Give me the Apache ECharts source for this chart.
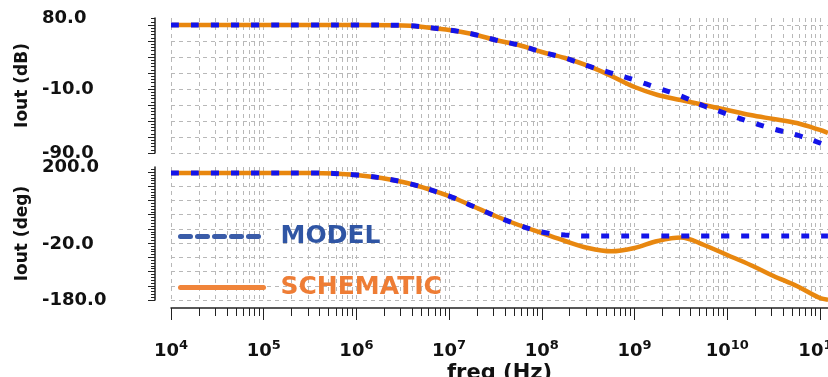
<!DOCTYPE html>
<html>
<head>
<meta charset="utf-8">
<script src="https://cdn.jsdelivr.net/npm/echarts@6/dist/echarts.min.js"></script>
<style>
html, body { margin: 0; padding: 0; background: #fff; }
#main { width: 828px; height: 377px; }
</style>
</head>
<body>
<div id="main"></div>
<script>
// read-off points (Hz)
var freqs = [1e4, 1e5, 3.16e5, 1e6, 3.16e6, 1e7, 1.78e7, 3.16e7, 5.62e7, 1e8, 1.78e8, 3.16e8, 5.62e8,
    1e9, 1.78e9, 3.16e9, 5.62e9, 1e10, 1.78e10, 3.16e10, 5.62e10, 1e11, 1.22e11];
// Iout magnitude (dB)
var magSchematic = [71.2, 71.2, 71.2, 71.2, 70.6, 64.9, 59.9, 52.3, 46.0, 37.2, 29.6, 19.6, 7.0,
    -6.9, -17.0, -23.3, -29.6, -35.9, -42.2, -47.2, -52.3, -61.0, -64.8];
var magModel = [71.2, 71.2, 71.2, 71.2, 70.6, 64.9, 59.9, 52.3, 46.0, 37.2, 29.6, 19.6, 10.7,
    1.9, -8.2, -18.2, -30.8, -40.9, -51.0, -59.8, -67.3, -77.4, -81.2];
// Iout phase (deg)
var phaseSchematic = [182.9, 182.9, 182.9, 177.1, 157.1, 117.1, 88.6, 60.0, 34.3, 11.4, -11.4, -31.4, -41.0,
    -31.4, -11.4, -1.5, -22.9, -51.4, -80.0, -111.4, -140.0, -174.3, -179];
var phaseModel = [182.9, 182.9, 182.9, 177.1, 157.1, 117.1, 88.6, 60.0, 34.3, 14.3, 5.7, 2.9, 2.9,
    2.9, 2.9, 2.9, 2.9, 2.9, 2.9, 2.9, 2.9, 2.9, 2.9];

var magLabels = [80, -10, -90];
var phaseLabels = [200, -20, -180];
var decades = [4, 5, 6, 7, 8, 9, 10, 11];

var FONT = 'DejaVu Sans';
var xMin = 4, xMax = 11.087;
var magMin = -90, magMax = 80, phMin = -180, phMax = 200;

// log grid positions 1..9 x 10^n
var logGrid = [];
decades.forEach(function (d) {
    for (var k = 1; k <= 9; k++) {
        var v = d + Math.log10(k);
        if (v <= xMax) logGrid.push(v);
    }
});

// ruler ticks on the y axes, 5 per grid step
function steps(min, max, step) {
    var out = [];
    for (var i = 0; min + i * step <= max + 1e-6; i++) out.push(+(min + i * step).toFixed(3));
    return out;
}
var magGrid = steps(magMin, magMax, 20.15);
var magRuler = steps(magMin, magMax, 4.03);
var phGrid = steps(phMin, phMax, 40.6);
var phRuler = steps(phMin, phMax, 8.12);

function pts(ys) {
    return freqs.map(function (f, i) { return [Math.log10(f), ys[i]]; });
}

var dashed = { show: true, lineStyle: { color: '#b8b8b8', width: 1, type: [4, 4] } };
var labelStyle = { fontFamily: FONT, fontWeight: 'bold', fontSize: 18, color: '#111' };
var nameStyle = { fontFamily: FONT, fontWeight: 'bold', fontSize: 17, color: '#111' };

function yAxes(grid, min, max, labels, grids, ruler, name) {
    return [{
        gridIndex: grid, type: 'value', position: 'left', min: min, max: max, offset: 16,
        name: name, nameLocation: 'middle', nameRotate: 90, nameGap: 114, nameTextStyle: nameStyle,
        axisLine: { show: true, onZero: false, lineStyle: { color: '#222', width: 1.5 } },
        axisTick: { show: true, length: 7, customValues: grids, lineStyle: { color: '#222' } },
        axisLabel: { show: true, customValues: labels, align: 'left', margin: 113,
            formatter: function (v) { return v.toFixed(1); }, fontFamily: FONT, fontWeight: 'bold', fontSize: 18, color: '#111' },
        splitLine: { show: false }
    }, {
        gridIndex: grid, type: 'value', position: 'left', min: min, max: max, offset: 16,
        axisLine: { show: false, onZero: false },
        axisTick: { show: true, length: 4, customValues: ruler, lineStyle: { color: '#222' } },
        axisLabel: { show: false },
        splitLine: { show: false }
    }, {
        gridIndex: grid, type: 'value', position: 'left', min: min, max: max,
        axisLine: { show: false, onZero: false },
        axisTick: { show: false, customValues: grids },
        axisLabel: { show: false },
        splitLine: dashed
    }];
}

var chart = echarts.init(document.getElementById('main'));
var option = {
    backgroundColor: '#fff',
    animation: false,
    grid: [
        { left: 171, right: 0, top: 18, height: 135, outerBoundsMode: 'none' },
        { left: 171, right: 0, top: 167, height: 133, outerBoundsMode: 'none' }
    ],
    legend: {
        orient: 'vertical', left: 178, top: 224, padding: 0,
        itemWidth: 83, itemHeight: 30, itemGap: 26, selectedMode: false,
        data: [{
            name: 'MODEL',
            itemStyle: { opacity: 0 },
            lineStyle: { color: '#3a5ca8', width: 5, type: [10, 7], cap: 'round' },
            textStyle: { color: '#2f55a4', fontFamily: FONT, fontWeight: 'bold', fontSize: 25, padding: [0, 0, 0, 12] }
        }, {
            name: 'SCHEMATIC',
            itemStyle: { opacity: 0 },
            lineStyle: { color: '#f0843a', width: 5, type: 'solid', cap: 'round' },
            textStyle: { color: '#ee7d35', fontFamily: FONT, fontWeight: 'bold', fontSize: 25, padding: [0, 0, 0, 12] }
        }]
    },
    xAxis: [{
        gridIndex: 0, type: 'value', position: 'bottom', min: xMin, max: xMax,
        axisLine: { show: false, onZero: false },
        axisTick: { show: false, customValues: logGrid },
        axisLabel: { show: false },
        splitLine: dashed
    }, {
        gridIndex: 1, type: 'value', position: 'bottom', min: xMin, max: xMax, offset: 8,
        name: 'freq (Hz)', nameLocation: 'middle', nameGap: 55,
        nameTextStyle: { fontFamily: FONT, fontWeight: 'bold', fontSize: 21, color: '#111' },
        axisLine: { show: true, onZero: false, lineStyle: { color: '#222', width: 1.5 } },
        axisTick: { show: true, length: 8, customValues: logGrid, lineStyle: { color: '#222' } },
        axisLabel: {
            show: true, customValues: decades, margin: 31,
            formatter: function (v) { return '{b|10}{s|' + Math.round(v) + '}'; },
            rich: {
                b: labelStyle,
                s: { fontFamily: FONT, fontWeight: 'bold', fontSize: 13, color: '#111', padding: [0, 0, 12, 0] }
            }
        },
        splitLine: dashed
    }, {
        gridIndex: 1, type: 'value', position: 'bottom', min: xMin, max: xMax, offset: 8,
        axisLine: { show: false, onZero: false },
        axisTick: { show: true, length: 12, customValues: decades, lineStyle: { color: '#222' } },
        axisLabel: { show: false },
        splitLine: { show: false }
    }],
    yAxis: yAxes(0, magMin, magMax, magLabels, magGrid, magRuler, 'Iout (dB)')
        .concat(yAxes(1, phMin, phMax, phaseLabels, phGrid, phRuler, 'Iout (deg)')),
    series: [{
        name: 'SCHEMATIC', type: 'line', xAxisIndex: 0, yAxisIndex: 0,
        data: pts(magSchematic), symbol: 'none', smooth: 0.35,
        lineStyle: { color: '#e8870f', width: 4.5 }
    }, {
        name: 'MODEL', type: 'line', xAxisIndex: 0, yAxisIndex: 0,
        data: pts(magModel), symbol: 'none', smooth: 0.35,
        lineStyle: { color: '#1414e8', width: 5, type: [8, 12] }
    }, {
        name: 'SCHEMATIC', type: 'line', xAxisIndex: 1, yAxisIndex: 3,
        data: pts(phaseSchematic), symbol: 'none', smooth: 0.35,
        lineStyle: { color: '#e8870f', width: 4.5 }
    }, {
        name: 'MODEL', type: 'line', xAxisIndex: 1, yAxisIndex: 3,
        data: pts(phaseModel), symbol: 'none', smooth: 0.35,
        lineStyle: { color: '#1414e8', width: 5, type: [8, 12] }
    }]
};
chart.setOption(option);
</script>
</body>
</html>
